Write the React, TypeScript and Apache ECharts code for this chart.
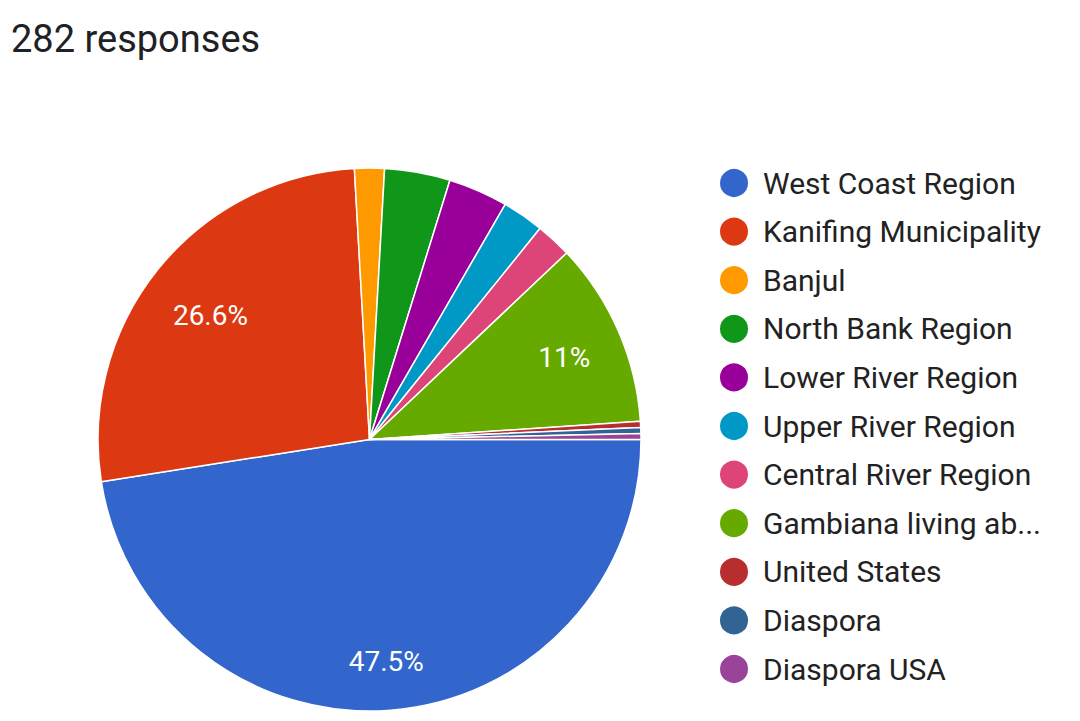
import React, { useEffect, useRef } from "react";
import * as echarts from "echarts";

const TITLE = "282 responses";
const categories = [
  "West Coast Region",
  "Kanifing Municipality",
  "Banjul",
  "North Bank Region",
  "Lower River Region",
  "Upper River Region",
  "Central River Region",
  "Gambiana living ab...",
  "United States",
  "Diaspora",
  "Diaspora USA",
];
const counts = [134, 75, 5, 11, 10, 7, 6, 31, 1, 1, 1];
const colors = [
  "#3366cc",
  "#dc3912",
  "#ff9900",
  "#109618",
  "#990099",
  "#0099c6",
  "#dd4477",
  "#66aa00",
  "#b82e2e",
  "#316395",
  "#994499",
];

const FONT = "Roboto, 'Noto Sans', sans-serif";

// small nudges of the in-slice percentage labels (styling only)
const labelOffsets: Record<number, number[]> = {
  0: [0, 8],
  1: [8, 11],
  7: [-2, 4],
};

export default function App() {
  const ref = useRef<HTMLDivElement>(null);
  useEffect(() => {
    if (!ref.current) return;
    const chart = echarts.init(ref.current, undefined, { renderer: "svg" });
    const total = counts.reduce((a, b) => a + b, 0);
    const fmtPct = (v: number) => {
      const p = (v / total) * 100;
      let s = p.toFixed(1);
      if (s.endsWith(".0")) s = s.slice(0, -2);
      return s + "%";
    };
    const R = 271.5;
    const center = [369.5, 439.5];
    const mainData = categories.map((name, i) => ({
      name,
      value: counts[i],
      itemStyle: { color: colors[i] },
    }));
    const labelData = categories.map((name, i) => ({
      name,
      value: counts[i],
      label: {
        show: counts[i] / total >= 0.05,
        offset: labelOffsets[i] || [0, 0],
      },
    }));
    chart.setOption({
      animation: false,
      backgroundColor: "#ffffff",
      title: {
        text: TITLE,
        left: 11,
        top: 20,
        padding: 0,
        textStyle: {
          fontFamily: FONT,
          fontSize: 38,
          fontWeight: "normal",
          color: "#202124",
          lineHeight: 38,
        },
      },
      legend: {
        orient: "vertical",
        left: 718,
        top: 167,
        padding: 0,
        icon: "circle",
        itemWidth: 30,
        itemHeight: 30,
        itemGap: 16.6,
        selectedMode: false,
        data: categories,
        textStyle: {
          fontFamily: FONT,
          fontSize: 30,
          lineHeight: 30,
          color: "#222222",
          padding: [0, 0, 0, 9],
        },
      },
      series: [
        {
          type: "pie",
          center,
          radius: [0, R],
          startAngle: 0,
          clockwise: true,
          silent: true,
          avoidLabelOverlap: false,
          label: { show: false },
          labelLine: { show: false },
          emphasis: { disabled: true },
          itemStyle: { borderColor: "#ffffff", borderWidth: 1.5 },
          data: mainData,
        },
        {
          type: "pie",
          center,
          radius: [0, R * 1.56],
          startAngle: 0,
          clockwise: true,
          silent: true,
          avoidLabelOverlap: false,
          emphasis: { disabled: true },
          itemStyle: { color: "rgba(0,0,0,0)", borderWidth: 0 },
          labelLine: { show: false },
          label: {
            position: "inside",
            color: "#ffffff",
            fontFamily: FONT,
            fontSize: 28,
            formatter: (p: any) => fmtPct(p.value),
          },
          data: labelData,
        },
      ],
    });
    return () => chart.dispose();
  }, []);
  return (
    <div
      ref={ref}
      style={{ position: "fixed", left: 0, top: 0, width: 1080, height: 721 }}
    />
  );
}
